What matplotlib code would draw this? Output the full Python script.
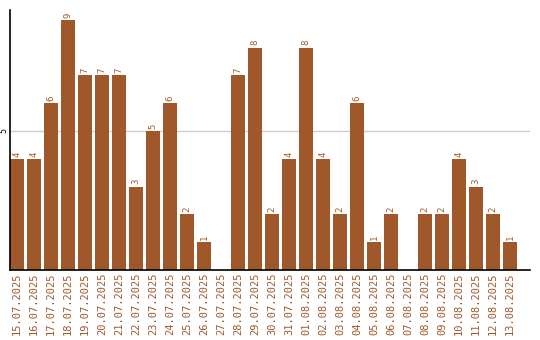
import matplotlib
matplotlib.use("Agg")
import matplotlib.pyplot as plt
import numpy as np

dates = ["15.07.2025", "16.07.2025", "17.07.2025", "18.07.2025", "19.07.2025",
         "20.07.2025", "21.07.2025", "22.07.2025", "23.07.2025", "24.07.2025",
         "25.07.2025", "26.07.2025", "27.07.2025", "28.07.2025", "29.07.2025",
         "30.07.2025", "31.07.2025", "01.08.2025", "02.08.2025", "03.08.2025",
         "04.08.2025", "05.08.2025", "06.08.2025", "07.08.2025", "08.08.2025",
         "09.08.2025", "10.08.2025", "11.08.2025", "12.08.2025", "13.08.2025"]
counts = [4, 4, 6, 9, 7, 7, 7, 3, 5, 6, 2, 1, 0, 7, 8, 2, 4, 8, 4, 2,
          6, 1, 2, 0, 2, 2, 4, 3, 2, 1]

BAR = "#a0582a"

fig = plt.figure(figsize=(5.4, 3.4), dpi=100)
ax = fig.add_axes([10 / 540, 70 / 340, 520 / 540, 260 / 340])

x = np.arange(len(counts))
ax.bar(x, counts, width=0.82, color=BAR, zorder=2)
for xi, v in zip(x, counts):
    if v > 0:
        ax.text(xi, v + 0.08, str(v), rotation=90, ha="center", va="bottom",
                color=BAR, fontsize=6.5, family="DejaVu Sans Mono")

ax.set_xlim(-0.41, 30.18)
ax.set_ylim(0, 9.35)
ax.set_xticks(x)
ax.set_xticklabels(dates, rotation=90, color=BAR, fontsize=7.5, family="DejaVu Sans Mono")
ax.set_yticks([5])
ax.set_yticklabels(["5"], rotation=90, va="center", fontsize=6, family="DejaVu Sans Mono")
ax.tick_params(axis="x", length=0, pad=2)
ax.tick_params(axis="y", length=0, pad=1)
ax.axhline(5, color="#cccccc", lw=1, zorder=1)

for s in ["top", "right"]:
    ax.spines[s].set_visible(False)
ax.spines["left"].set_linewidth(1.2)
ax.spines["bottom"].set_linewidth(1.2)

fig.savefig("out.png", dpi=100)
